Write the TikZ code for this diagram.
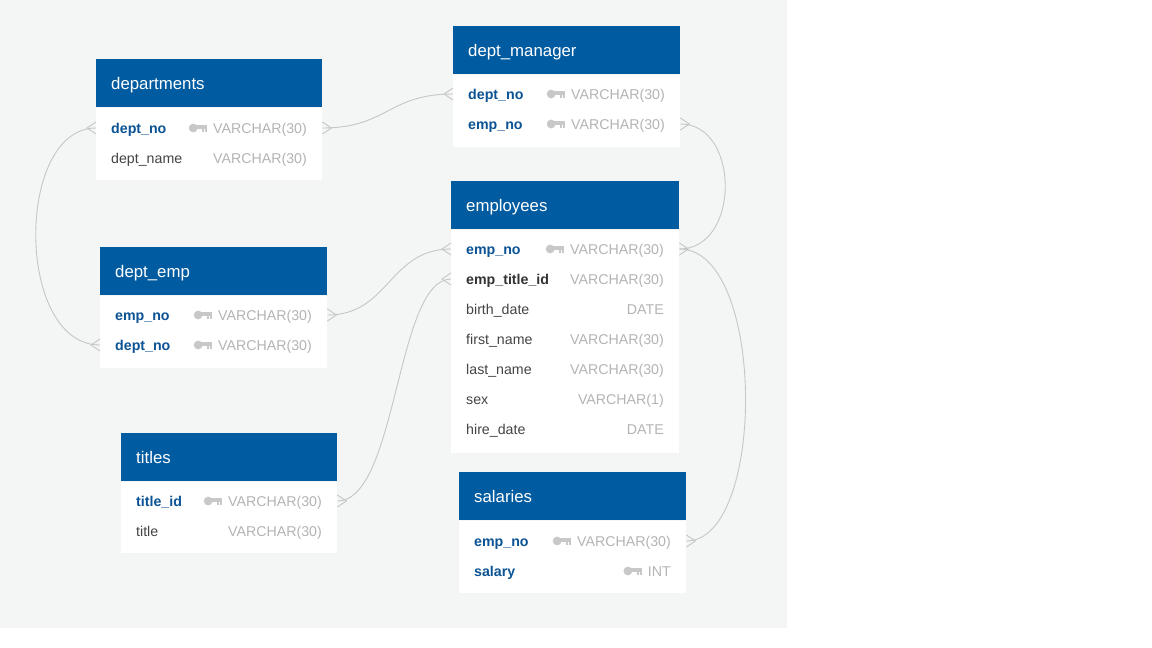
\documentclass[tikz,border=0pt]{standalone}
\usepackage{fontspec}
\setmainfont{Liberation Sans}
\definecolor{bg}{HTML}{F4F5F5}
\definecolor{hdr}{HTML}{005BA0}
\definecolor{pk}{HTML}{0B5394}
\definecolor{fk}{HTML}{333333}
\definecolor{txt}{HTML}{444444}
\definecolor{typ}{HTML}{B4B4B4}
\definecolor{keyc}{HTML}{C8C8C8}
\definecolor{lnk}{HTML}{C6C6C6}
\tikzset{
  hdrbox/.style={fill=hdr, draw=none, inner sep=0pt},
  bodybox/.style={fill=white, draw=none, inner sep=0pt},
  titletext/.style={text=white, inner sep=0pt, font=\fontsize{16.8}{19}\selectfont},
  pkname/.style={text=pk, inner sep=0pt, font=\fontsize{14.2}{16}\selectfont\bfseries},
  fkname/.style={text=fk, inner sep=0pt, font=\fontsize{14.2}{16}\selectfont\bfseries},
  plainname/.style={text=txt, inner sep=0pt, font=\fontsize{14.2}{16}\selectfont},
  typetext/.style={text=typ, inner sep=0pt, font=\fontsize{14.2}{16}\selectfont},
  link/.style={draw=lnk, line width=0.9pt},
}
% id, x, ytop, width, body height, title
\newcommand\tablebox[6]{%
  \node[hdrbox, minimum width=#4pt, minimum height=48pt, anchor=north west] (#1-h) at (#2,#3) {};
  \node[bodybox, minimum width=#4pt, minimum height=#5pt, anchor=north west] (#1-b) at (#1-h.south west) {};
  \node[titletext, anchor=base west] (#1-t) at ([xshift=15pt,yshift=-6pt]#1-h.west) {#6};
}
\newcommand\keyicon[2]{%
  \path (#1-ty.west |- 0,#2) coordinate (#1-k);
  \begin{scope}[shift={(#1-k)}]
    \fill[keyc] (-19.8,0) circle (4.4);
    \fill[keyc] (-17,-2.6) rectangle (-6,1.0);
    \fill[keyc] (-11,1.0) rectangle (-8.8,4.0);
    \fill[keyc] (-7.8,1.0) rectangle (-6,4.0);
  \end{scope}%
}
% id, xl, xr, y, style, name, type, key
\newcommand\fld[8]{%
  \node[#5, anchor=base west] (#1) at (#2+15,#4+5) {#6};
  \node[typetext, anchor=base east] (#1-ty) at (#3-15,#4+5) {#7};
  \ifnum#8=1 \keyicon{#1}{#4}\fi
}
\newcommand\forkR[1]{\draw[link] (#1) ++(0,-6) -- ++(9,6) -- ++(-9,6);}
\newcommand\forkL[1]{\draw[link] (#1) ++(0,-6) -- ++(-9,6) -- ++(9,6);}
\begin{document}
\begin{tikzpicture}[x=1pt,y=-1pt]
\useasboundingbox (0,0) rectangle (1152,648);
\fill[white] (0,0) rectangle (1152,648);
\fill[bg] (0,0) rectangle (787,628);

% tables
\tablebox{dep}{96}{59}{226}{72}{departments}
\fld{dep-no}{96}{322}{128}{pkname}{dept\_no}{VARCHAR(30)}{1}
\fld{dep-name}{96}{322}{158}{plainname}{dept\_name}{VARCHAR(30)}{0}

\tablebox{dm}{453}{26}{227}{72}{dept\_manager}
\fld{dm-dept}{453}{680}{94}{pkname}{dept\_no}{VARCHAR(30)}{1}
\fld{dm-emp}{453}{680}{124}{pkname}{emp\_no}{VARCHAR(30)}{1}

\tablebox{em}{451}{181}{228}{223}{employees}
\fld{em-no}{451}{679}{249}{pkname}{emp\_no}{VARCHAR(30)}{1}
\fld{em-tit}{451}{679}{279}{fkname}{emp\_title\_id}{VARCHAR(30)}{0}
\fld{em-birth}{451}{679}{309}{plainname}{birth\_date}{DATE}{0}
\fld{em-first}{451}{679}{339}{plainname}{first\_name}{VARCHAR(30)}{0}
\fld{em-last}{451}{679}{369}{plainname}{last\_name}{VARCHAR(30)}{0}
\fld{em-sex}{451}{679}{399}{plainname}{sex}{VARCHAR(1)}{0}
\fld{em-hire}{451}{679}{429}{plainname}{hire\_date}{DATE}{0}

\tablebox{de}{100}{247}{227}{72}{dept\_emp}
\fld{de-emp}{100}{327}{315}{pkname}{emp\_no}{VARCHAR(30)}{1}
\fld{de-dept}{100}{327}{345}{pkname}{dept\_no}{VARCHAR(30)}{1}

\tablebox{ti}{121}{433}{216}{71}{titles}
\fld{ti-id}{121}{337}{501}{pkname}{title\_id}{VARCHAR(30)}{1}
\fld{ti-title}{121}{337}{531}{plainname}{title}{VARCHAR(30)}{0}

\tablebox{sa}{459}{472}{227}{72}{salaries}
\fld{sa-emp}{459}{686}{541}{pkname}{emp\_no}{VARCHAR(30)}{1}
\fld{sa-sal}{459}{686}{571}{pkname}{salary}{INT}{1}

% ports
\coordinate (dep-no-R) at (dep-b.east |- 0,128);
\coordinate (dep-no-L) at (dep-b.west |- 0,128);
\coordinate (dm-dept-L) at (dm-b.west |- 0,94);
\coordinate (dm-emp-R) at (dm-b.east |- 0,124);
\coordinate (em-no-L) at (em-b.west |- 0,249);
\coordinate (em-no-R) at (em-b.east |- 0,249);
\coordinate (em-tit-L) at (em-b.west |- 0,279);
\coordinate (de-emp-R) at (de-b.east |- 0,315);
\coordinate (de-dept-L) at (de-b.west |- 0,345);
\coordinate (ti-id-R) at (ti-b.east |- 0,501);
\coordinate (sa-emp-R) at (sa-b.east |- 0,541);

% connectors
\draw[link] (dep-no-R) .. controls +(65,0) and +(-65,0) .. (dm-dept-L);
\draw[link] (dep-no-L) .. controls +(-81,0) and +(-85,0) .. (de-dept-L);
\draw[link] (dm-emp-R) .. controls +(60,0) and +(61,0) .. (em-no-R);
\draw[link] (de-emp-R) .. controls +(62,0) and +(-62,0) .. (em-no-L);
\draw[link] (ti-id-R) .. controls +(60,0) and +(-55,0) .. (em-tit-L);
\draw[link] (em-no-R) .. controls +(87,0) and +(80,0) .. (sa-emp-R);

% crow's feet
\forkR{dep-no-R}
\forkL{dep-no-L}
\forkL{dm-dept-L}
\forkR{dm-emp-R}
\forkL{em-no-L}
\forkR{em-no-R}
\forkL{em-tit-L}
\forkR{de-emp-R}
\forkL{de-dept-L}
\forkR{ti-id-R}
\forkR{sa-emp-R}
\end{tikzpicture}
\end{document}
